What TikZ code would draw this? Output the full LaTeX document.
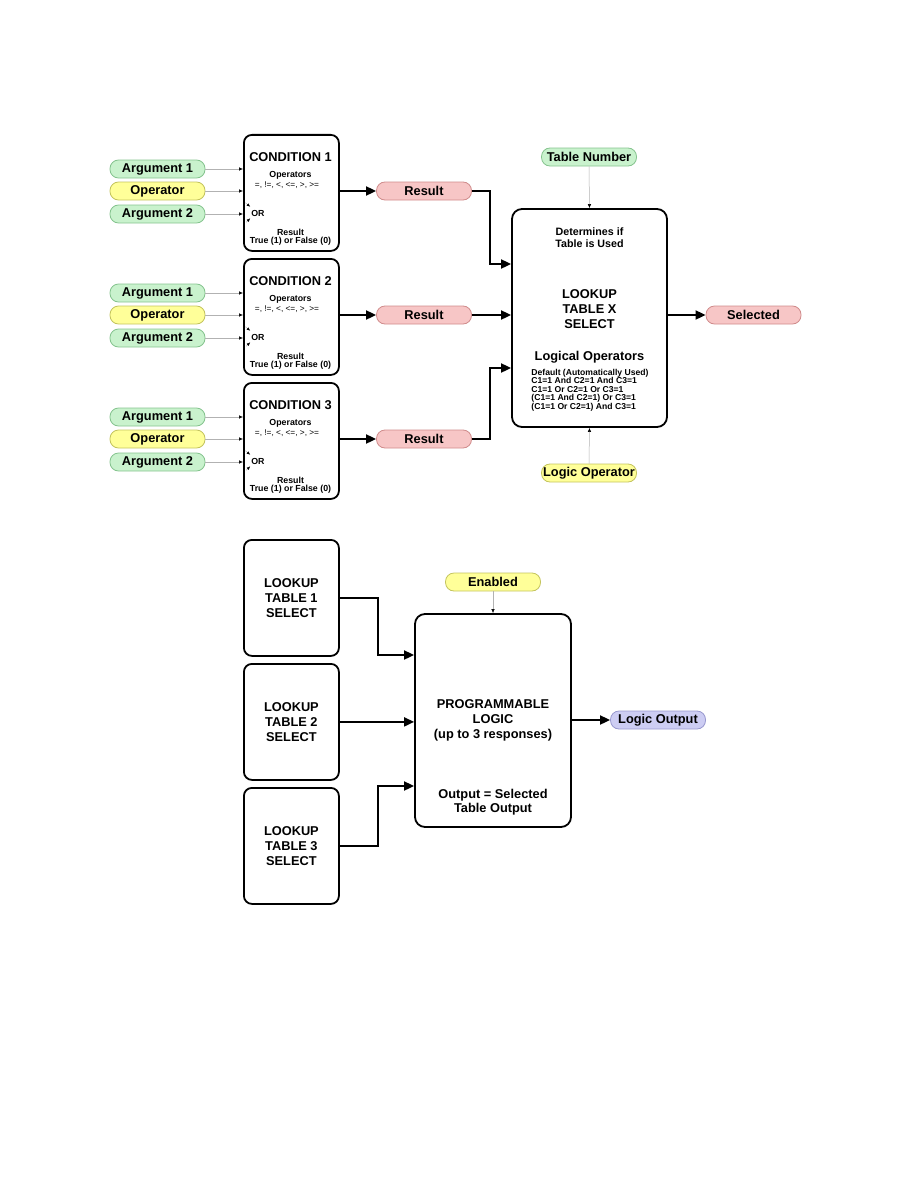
\documentclass[tikz,border=0pt]{standalone}
\usepackage{fontspec}
\setmainfont{Liberation Sans}
\usetikzlibrary{arrows.meta,calc,positioning}

\definecolor{argfill}{HTML}{C9F2CD}
\definecolor{argline}{HTML}{86C48F}
\definecolor{opfill}{HTML}{FFFF99}
\definecolor{opline}{HTML}{C4C45E}
\definecolor{resfill}{HTML}{F7C6C6}
\definecolor{resline}{HTML}{D08C8C}
\definecolor{outfill}{HTML}{CDCDF3}
\definecolor{outline}{HTML}{9898CF}

\tikzset{
  blk/.style={draw,line width=1.8pt,rounded corners=8pt,minimum width=95pt,
    minimum height=116pt,inner sep=0pt},
  pill/.style={draw=#1line,fill=#1fill,line width=0.8pt,rounded corners=8.5pt,
    minimum width=95pt,minimum height=18pt,inner sep=0pt,
    font=\fontsize{12.8}{14}\selectfont\bfseries},
  big/.style={inner sep=0pt,align=center,font=\fontsize{12.8}{15}\selectfont\bfseries},
  mid/.style={inner sep=0pt,align=center,font=\fontsize{10.7}{12}\selectfont\bfseries},
  tiny/.style={inner sep=0pt,align=center,font=\fontsize{8.8}{9}\selectfont\bfseries},
  micro/.style={inner sep=0pt,font=\fontsize{8.3}{8}\selectfont},
  feed/.style={draw=gray!60,line width=0.5pt,-{Latex[length=4pt,width=3.5pt,color=black]}},
  orhead/.style={draw=gray!60,line width=0.4pt,-{Latex[length=3.5pt,width=3pt,color=black]}},
  bigarrow/.style={line width=1.8pt,-{Triangle[length=10pt,width=9pt]}},
}

\begin{document}
\begin{tikzpicture}[x=1pt,y=-1pt]
  \useasboundingbox (0,0) rectangle (918,1188);
  % --- condition blocks with their inputs ---
  \foreach \i/\yy in {1/134,2/258,3/382}{
    \node[blk,anchor=north west] (c\i) at (243,\yy) {};
    \node[big] (ct\i) at (290.5,\yy+23) {CONDITION \i};
    \node[tiny] (co\i) at (290.5,\yy+41) {Operators};
    \node[micro] (cs\i) at (287,\yy+51) {=, !=, <, <=, >, >=};
    \node[tiny] (or\i) at (258,\yy+79) {OR};
    \node[tiny] (cr\i) at (290.5,\yy+98) {Result};
    \node[tiny] (cf\i) at (290.5,\yy+107) {True (1) or False (0)};
    \draw[orhead] ($(or\i.north west)+(-6,-7)$) -- ($(or\i.north west)+(-1,-3)$);
    \draw[orhead] ($(or\i.south west)+(-5,6)$) -- ($(or\i.south west)+(-1,2)$);
    \node[pill=arg] (a\i) at (157.5,\yy+35) {Argument 1};
    \node[pill=op]  (o\i) at (157.5,\yy+57) {Operator};
    \node[pill=arg] (b\i) at (157.5,\yy+80) {Argument 2};
    \node[pill=res] (r\i) at (424,\yy+57) {Result};
    \draw[feed] (a\i.east) -- (a\i.east -| c\i.west);
    \draw[feed] (o\i.east) -- (o\i.east -| c\i.west);
    \draw[feed] (b\i.east) -- (b\i.east -| c\i.west);
    \draw[bigarrow] (r\i.west -| c\i.east) -- (r\i.west);
  }
  % --- lookup table X select ---
  \node[blk,minimum width=155pt,minimum height=218pt,rounded corners=10pt] (lk) at (589.5,318) {};
  \node[mid] (lkd) at (589.5,238) {Determines if\\Table is Used};
  \node[big] (lkt) at (589.5,309) {LOOKUP\\TABLE X\\SELECT};
  \node[big] (lkl) at (589.5,357) {Logical Operators};
  \node[inner sep=0pt,align=left,font=\fontsize{8.6}{8.5}\selectfont\bfseries] (lkx) at (590,390)
    {Default (Automatically Used)\\C1=1 And C2=1 And C3=1\\C1=1 Or C2=1 Or C3=1\\
     (C1=1 And C2=1) Or C3=1\\(C1=1 Or C2=1) And C3=1};
  \node[pill=arg] (tn) at (589,157) {Table Number};
  \node[pill=op]  (lo) at (589,473) {Logic Operator};
  \node[pill=res] (sel) at (753.5,315) {Selected};
  \draw[feed] (tn.south) -- (lk.north);
  \draw[feed] (lo.north) -- (lk.south);
  \draw[bigarrow] (lk.east |- sel) -- (sel.west);
  \draw[bigarrow] (r1.east) -- ++(18,0) |- ([yshift=54pt]lk.west);
  \draw[bigarrow] (r2.east) -- (r2.east -| lk.west);
  \draw[bigarrow] (r3.east) -- ++(18,0) |- ([yshift=-50pt]lk.west);
  % --- lookup tables into programmable logic ---
  \foreach \i/\yy in {1/539,2/663,3/787}{
    \node[blk,anchor=north west] (t\i) at (243,\yy) {};
    \node[big] (tt\i) at (t\i) {LOOKUP\\TABLE \i\\SELECT};
  }
  \node[blk,minimum width=156pt,minimum height=213pt,rounded corners=10pt] (pl) at (493,720.5) {};
  \node[big] (plt) at (493,720) {PROGRAMMABLE\\LOGIC\\(up to 3 responses)};
  \node[big,font=\fontsize{12.8}{14}\selectfont\bfseries] (plo) at (493,802) {Output = Selected\\Table Output};
  \node[pill=op]  (en) at (493,582) {Enabled};
  \node[pill=out] (lgo) at (658,720) {Logic Output};
  \draw[feed] (en.south) -- (pl.north);
  \draw[bigarrow] (pl.east |- lgo) -- (lgo.west);
  \draw[bigarrow] (t1.east) -- ++(38,0) |- ([yshift=65.5pt]pl.west);
  \draw[bigarrow] (t2.east) -- (t2.east -| pl.west);
  \draw[bigarrow] (t3.east) -- ++(38,0) |- ([yshift=-65.5pt]pl.west);
\end{tikzpicture}
\end{document}
